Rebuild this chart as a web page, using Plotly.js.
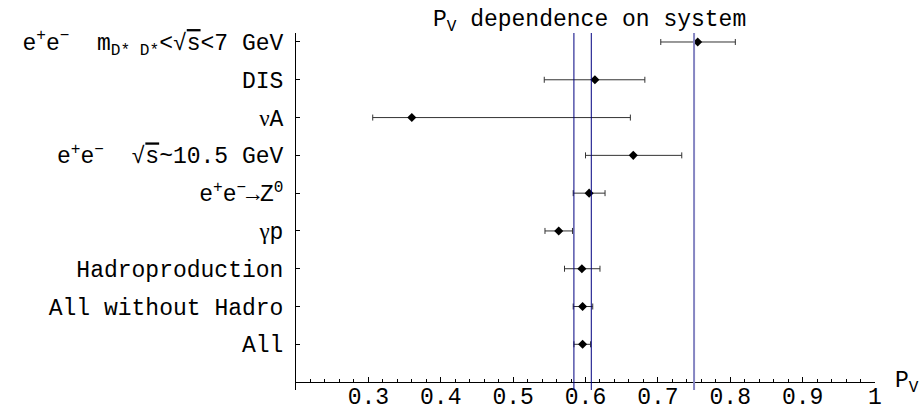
<!DOCTYPE html>
<html>
<head>
<meta charset="utf-8">
<script src="https://cdn.plot.ly/plotly-3.0.1.min.js"></script>
<style>
html,body{margin:0;padding:0;background:#fff;}
#chart{width:922px;height:413px;}
</style>
</head>
<body>
<div id="chart"></div>
<script>
// Categories, top to bottom as in the picture
var systems = [
  "e<sup>+</sup>e<sup>\u2212</sup>\u00a0\u00a0m<sub>D* D*</sub><\u221a<span style='text-decoration:overline'>s</span><7\u00a0GeV",
  "DIS",
  "<span style='font-family:Liberation Serif'>\u03bd</span>A",
  "e<sup>+</sup>e<sup>\u2212</sup>\u00a0\u00a0\u221a<span style='text-decoration:overline'>s</span>~10.5\u00a0GeV",
  "e<sup>+</sup>e<sup>\u2212</sup>\u2192Z<sup>0</sup>",
  "<span style='font-family:Liberation Serif'>\u03b3</span>p",
  "Hadroproduction",
  "All without Hadro",
  "All"
];
// P_V central values and asymmetric errors
var pv       = [0.755, 0.613, 0.360, 0.666, 0.605, 0.563, 0.595, 0.596, 0.596];
var errPlus  = [0.052, 0.069, 0.302, 0.067, 0.022, 0.019, 0.025, 0.014, 0.011];
var errMinus = [0.051, 0.070, 0.054, 0.066, 0.022, 0.019, 0.024, 0.013, 0.012];
// Reference lines: band of "All" result and 0.75
var bandLines = [0.584, 0.608];
var specialLine = [0.75];
// x tick labels
var xTickVals = [0.3, 0.4, 0.5, 0.6, 0.7, 0.8, 0.9, 1];
var xTickText = ["0.3", "0.4", "0.5", "0.6", "0.7", "0.8", "0.9", "1"];

var FONT = "Liberation Mono, Courier New, monospace";

var trace = {
  type: "scatter",
  mode: "markers",
  x: pv,
  y: systems,
  marker: {symbol: "diamond", size: 7, color: "#000"},
  error_x: {
    type: "data", symmetric: false,
    array: errPlus, arrayminus: errMinus,
    width: 3, thickness: 1, color: "#333"
  },
  hoverinfo: "skip",
  showlegend: false,
  cliponaxis: false
};

var shapes = [];
bandLines.forEach(function (v) {
  shapes.push({type: "line", xref: "x", yref: "paper", x0: v, x1: v, y0: 0, y1: 1,
    line: {color: "#000080", width: 1}});
});
specialLine.forEach(function (v) {
  shapes.push({type: "line", xref: "x", yref: "paper", x0: v, x1: v, y0: 0, y1: 1,
    line: {color: "#8585c2", width: 2}});
});

var layout = {
  width: 922, height: 413,
  margin: {l: 296, r: 47, t: 33, b: 23, pad: 0},
  paper_bgcolor: "#fff", plot_bgcolor: "#fff",
  font: {family: FONT, size: 23, color: "#000"},
  title: {
    text: "P<sub>V</sub> dependence on system",
    font: {family: FONT, size: 23, color: "#000"},
    xref: "paper", x: 0.507, xanchor: "center",
    yref: "container", y: 1 - 18 / 413, yanchor: "middle"
  },
  xaxis: {
    range: [0.2, 1.0],
    anchor: "free", position: 0.0213,
    showline: true, linecolor: "#000", linewidth: 1,
    showgrid: false, zeroline: false,
    ticks: "inside", ticklen: 5, tickcolor: "#000", tickwidth: 1,
    tickmode: "array", tickvals: xTickVals, ticktext: xTickText,
    ticklabelstandoff: -7,
    tickfont: {family: FONT, size: 23, color: "#000"},
    minor: {tickmode: "linear", tick0: 0.2, dtick: 0.02, ticks: "inside", ticklen: 3, tickcolor: "#000", tickwidth: 1, showgrid: false}
  },
  yaxis: {
    type: "category",
    categoryorder: "array", categoryarray: systems,
    range: [9.209, -0.238],
    showline: true, linecolor: "#000", linewidth: 1,
    showgrid: false, zeroline: false,
    ticks: "inside", ticklen: 4, tickcolor: "#000", tickwidth: 1,
    ticklabelstandoff: 7,
    tickfont: {family: FONT, size: 23, color: "#000"}
  },
  shapes: shapes,
  annotations: [{
    text: "P<sub>V</sub>", xref: "paper", yref: "y", x: 1.031, y: 9,
    xanchor: "left", yanchor: "middle", showarrow: false,
    font: {family: FONT, size: 23, color: "#000"}
  }]
};

Plotly.newPlot("chart", [trace], layout, {staticPlot: true, displayModeBar: false});
</script>
</body>
</html>
